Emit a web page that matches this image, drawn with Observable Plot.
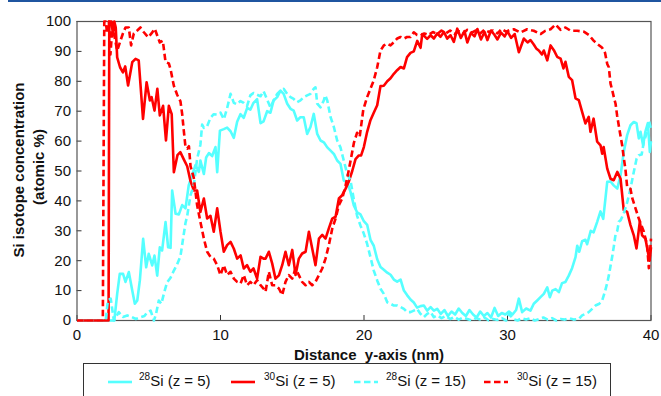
<!DOCTYPE html>
<html>
<head>
<meta charset="utf-8">
<script src="https://cdn.jsdelivr.net/npm/d3@7"></script>
<script src="https://cdn.jsdelivr.net/npm/@observablehq/plot@0.6"></script>
<style>
  html, body { margin: 0; padding: 0; background: #fff; overflow: hidden; }
  #wrap { position: relative; width: 661px; height: 396px; font-family: "Liberation Sans", Arial, sans-serif; color: #111; }
  #topline { position: absolute; left: 8px; right: 0; top: 0; height: 1.5px; background: #1f55a0; }
  #chart { position: absolute; left: 0; top: 0; }
  .lbl { position: absolute; font-weight: bold; font-size: 15px; white-space: pre; }
  .ylab { transform: translate(-50%, -50%) rotate(-90deg); }
  #legend { position: absolute; left: 83px; top: 363px; width: 528px; height: 45px; border: 1px solid #333; box-sizing: border-box; }
  .ent { position: absolute; top: 0; height: 36px; }
  .ent svg { position: absolute; top: 0; left: 0; }
  .ent span { position: absolute; top: 8px; font-size: 15px; white-space: nowrap; }
  .ent sup { font-size: 10px; vertical-align: 0; position: relative; top: -6px; }
</style>
</head>
<body>
<div id="wrap">
  <div id="topline"></div>
  <div id="chart"></div>
  <div class="lbl ylab" style="left:18px; top:170px;">Si isotope concentration</div>
  <div class="lbl ylab" style="left:38px; top:167px;">(atomic %)</div>
  <div class="lbl" style="left:369px; top:354px; transform: translate(-50%,-50%);">Distance  y-axis (nm)</div>
  <div id="legend"></div>
</div>
<script>
// ---- data: [distance nm, atomic %] ----
const si28z5 = [[0,0],[2.6,0],[2.8,8.9],[2.98,15.6],[3.21,15.6],[3.38,12.9],[3.61,16.2],[3.85,10],[4.03,5.6],[4.2,6.7],[4.38,13.4],[4.61,27.3],[4.82,17.8],[5.0,22.3],[5.24,18.4],[5.4,21.7],[5.59,15],[5.77,24.5],[5.93,23.4],[6.17,32.9],[6.35,24.5],[6.52,24.3],[6.63,43.5],[6.87,35.7],[7.1,35.5],[7.33,38.6],[7.56,37.5],[7.79,45.3],[8.02,48.6],[8.26,52],[8.49,49.7],[8.6,53.5],[8.84,49],[9.0,54.5],[9.19,56],[9.42,55],[9.65,58],[9.77,49.6],[9.96,63.5],[10.23,64],[10.46,64.5],[10.7,63.3],[10.93,61.1],[11.16,66.5],[11.39,69],[11.62,67.8],[11.86,71.1],[12.08,70.5],[12.3,72.8],[12.55,74],[12.79,66],[13.0,66.6],[13.25,70],[13.48,69.5],[13.7,73.6],[13.95,74.7],[14.18,76.9],[14.4,75.8],[14.65,72.5],[14.88,70.8],[15.1,70.2],[15.34,66.9],[15.57,68],[15.8,68],[16.04,62.4],[16.27,64.7],[16.5,69.1],[16.74,62.4],[16.97,60.2],[17.2,59.6],[17.44,57.9],[17.67,56.8],[17.9,55.7],[18.13,53.5],[18.36,52.4],[18.59,46.8],[18.83,46.3],[19.06,43],[19.29,38.5],[19.52,36.2],[19.75,35.5],[19.99,33.2],[20.22,32],[20.45,27],[20.68,25],[20.92,20.5],[21.15,17.9],[21.38,17],[21.62,16],[21.85,15.3],[22.08,13.7],[22.31,13],[22.55,13.7],[22.78,10],[23.0,8.5],[23.24,7],[23.47,6],[23.7,4.3],[23.94,4.8],[24.17,5],[24.4,3.3],[24.64,4.5],[24.87,3.3],[25.1,3.9],[25.35,2.2],[25.6,3.5],[25.85,1.5],[26.1,3],[26.35,2],[26.6,4],[26.85,2.5],[27.1,1.5],[27.35,3.5],[27.6,2],[27.85,1],[28.1,3],[28.35,1.5],[28.6,2.5],[28.85,1],[29.1,4.2],[29.35,1.5],[29.6,2.5],[29.85,2],[30.1,3],[30.35,2],[30.6,3.5],[30.79,7.3],[31.02,2.8],[31.3,4],[31.6,3.3],[31.83,5.6],[32.07,6.7],[32.3,7.8],[32.53,8.9],[32.77,11.1],[32.95,7.8],[33.12,10],[33.35,10.5],[33.58,9.5],[33.8,12.5],[34.04,12.9],[34.27,15],[34.5,17.5],[34.74,21.2],[34.86,25],[35.0,23],[35.2,26.5],[35.43,27],[35.55,25.5],[35.8,30],[36.0,29.5],[36.25,33],[36.48,36.5],[36.67,34],[36.83,41],[36.95,46.4],[37.18,46.5],[37.4,45.2],[37.65,44.1],[37.88,48.6],[38.1,56.4],[38.34,62],[38.57,65.3],[38.8,66.4],[38.99,66],[39.15,60.9],[39.27,63.1],[39.45,58.6],[39.6,63],[39.78,66],[39.92,56.4],[40,60]];

const si30z5 = [[0,0],[2.2,0],[2.25,100],[2.4,100],[2.5,96],[2.6,100],[2.7,98],[2.8,88],[3.0,84.7],[3.2,83],[3.36,85],[3.56,78.6],[3.85,86.4],[4.08,87.5],[4.3,87],[4.6,67.4],[4.85,79.7],[5.08,73.6],[5.2,74.7],[5.4,70.2],[5.6,77.5],[5.77,68.6],[6.0,71.8],[6.2,60.2],[6.4,71.8],[6.6,69],[6.75,49.6],[7.0,55.3],[7.2,56.3],[7.45,53.8],[7.68,51.6],[7.91,46.6],[8.14,43.5],[8.37,43.5],[8.6,36.3],[8.84,40.8],[9.07,34.1],[9.3,35],[9.53,29.7],[9.77,37.5],[10.0,29.7],[10.23,23],[10.46,25.2],[10.7,26.3],[10.93,24],[11.16,20.7],[11.4,21.8],[11.62,17.4],[11.85,18.5],[12.08,16.3],[12.3,17.4],[12.55,14],[12.79,21.3],[13.0,20.7],[13.14,20.7],[13.37,23],[13.6,19.1],[13.83,14],[14.07,15.1],[14.3,18.5],[14.53,23],[14.76,18.5],[15.0,23.6],[15.23,15.2],[15.46,20.7],[15.69,22.4],[15.93,23],[16.16,29.7],[16.39,24.1],[16.62,18.5],[16.86,27.4],[17.09,28.6],[17.32,27.4],[17.55,30.8],[17.79,34.1],[18.02,34.7],[18.25,40.8],[18.48,41.9],[18.72,44.1],[18.95,46.6],[19.18,50],[19.41,54],[19.64,55.2],[19.8,55.2],[19.99,58],[20.22,63.1],[20.45,67],[20.68,69.5],[20.92,72],[21.15,78.4],[21.38,78.5],[21.62,80],[21.85,81],[22.08,82.5],[22.31,83.7],[22.55,84.8],[22.78,84.3],[23.0,88.1],[23.24,89.5],[23.47,90],[23.71,93.5],[23.94,91.2],[24.06,95.8],[24.4,94.2],[24.64,95.4],[24.87,94.3],[25.1,96],[25.33,94.9],[25.57,96.5],[25.8,94.3],[26.03,95.4],[26.26,93.2],[26.5,97.6],[26.75,94.5],[27.0,96.8],[27.2,93],[27.45,96.2],[27.7,95],[27.9,97.5],[28.15,94],[28.4,96.5],[28.6,93.8],[28.85,97],[29.1,95.5],[29.3,94],[29.55,96.3],[29.8,95],[30.0,96.7],[30.25,94.5],[30.5,95.8],[30.79,89.7],[31.14,94.3],[31.4,93],[31.6,93.8],[31.83,92.3],[32.0,91],[32.18,90.3],[32.4,89],[32.53,90.3],[32.77,87],[33.0,92],[33.23,90.4],[33.46,88.2],[33.7,87.6],[33.9,84.3],[34.04,86.5],[34.27,81.5],[34.5,80.4],[34.74,74.3],[34.97,73.7],[35.2,69.8],[35.43,65.9],[35.66,68.1],[35.78,63.1],[36.0,67.5],[36.25,59.8],[36.48,58.6],[36.6,55.8],[36.7,58],[36.95,50.8],[37.18,47.4],[37.4,46.9],[37.65,49.7],[37.88,47.4],[38.1,36.9],[38.34,36.3],[38.57,31.9],[38.8,28.5],[38.99,24.1],[39.22,33],[39.38,28.5],[39.61,27.4],[39.78,23],[39.9,20],[40,24.5]];

const si28z15 = [[0,0],[2.0,0],[2.15,6.7],[2.35,7.3],[2.57,0],[2.91,2.8],[3.2,1.2],[3.5,1.7],[3.8,1.2],[4.1,0.5],[4.42,1.1],[4.7,1.5],[4.9,2.8],[5.13,3.3],[5.36,0],[5.5,2],[5.7,6.7],[5.88,5.6],[6.05,8.9],[6.28,12.8],[6.52,14.3],[6.75,16.7],[6.98,18.8],[7.21,21.5],[7.4,27.6],[7.56,32.6],[7.68,35],[7.8,38.6],[7.91,41.9],[8.14,45.3],[8.37,54],[8.6,58.8],[8.72,65.5],[8.84,64.4],[9.07,65],[9.3,67.8],[9.53,69],[9.77,68.9],[10.0,69.5],[10.23,67.3],[10.46,71],[10.7,75.8],[10.93,72.8],[11.16,72.3],[11.39,73.4],[11.62,72.8],[11.85,71.7],[12.08,75.3],[12.3,76.1],[12.55,75.5],[12.79,75],[13.0,76.7],[13.25,73.9],[13.48,71.3],[13.7,73.6],[13.95,75.8],[14.18,76.9],[14.4,77.5],[14.65,75.8],[14.88,74.7],[15.1,74.1],[15.34,73],[15.57,73.6],[15.8,74.7],[16.04,75.3],[16.27,75.8],[16.5,77.5],[16.62,78],[16.74,72.5],[16.97,71.3],[17.2,73.6],[17.3,75.3],[17.44,73.6],[17.67,68],[17.9,64.7],[18.13,60.2],[18.36,57.9],[18.59,53.5],[18.83,49],[19.06,46.8],[19.29,40.5],[19.52,35],[19.75,31.8],[19.99,29],[20.22,25.6],[20.45,21.2],[20.68,16.7],[20.92,13.4],[21.15,10.6],[21.38,8.9],[21.62,6.1],[21.85,5.6],[22.08,5],[22.31,5],[22.55,4.5],[22.78,3.9],[23.0,2.8],[23.24,2.8],[23.47,3.3],[23.7,3.9],[23.94,2.2],[24.17,1.1],[24.4,2.2],[24.64,2.8],[24.87,1.1],[25.1,1.7],[25.4,0.8],[25.7,1.5],[26.0,0.5],[26.3,1.2],[26.6,0.3],[26.9,1],[27.2,0.5],[27.5,0],[27.8,0.8],[28.1,0.3],[28.4,1],[28.7,0],[29.0,0.5],[29.3,0.2],[29.6,0.8],[29.9,0],[30.1,2.2],[30.4,0.5],[30.7,0],[31.0,0.8],[31.3,0.3],[31.6,0.8],[31.9,0],[32.2,0.5],[32.5,1],[32.8,0.3],[33.1,0.8],[33.4,0],[33.7,0.5],[34.0,0.3],[34.3,0.8],[34.6,0.3],[34.97,0.5],[35.2,1.7],[35.43,2.2],[35.66,2.8],[35.9,3.9],[36.13,5],[36.4,5.6],[36.6,6.7],[36.8,9.8],[36.95,12.6],[37.06,15],[37.18,18.2],[37.3,21.5],[37.41,24.8],[37.53,28.8],[37.65,30],[37.76,33],[37.88,33.5],[38.1,35.8],[38.34,39.5],[38.57,44.1],[38.8,49.7],[39.0,54.2],[39.15,55.3],[39.35,55.5],[39.5,59.8],[39.73,63.1],[39.85,67],[40,64]];

const si30z15 = [[0,0],[1.8,0],[1.9,100],[2.0,100],[2.1,96],[2.22,100],[2.33,89],[2.45,97],[2.57,96],[2.8,90.3],[3.03,93.6],[3.2,96],[3.38,98],[3.61,98],[3.77,92],[3.96,96],[4.2,97],[4.42,98],[4.66,96.4],[4.96,94.7],[5.19,96],[5.42,97.6],[5.59,95.3],[5.77,93],[5.98,93.6],[6.17,86.4],[6.4,86],[6.52,84],[6.75,78.5],[6.98,75.5],[7.21,73.3],[7.33,69],[7.44,63.6],[7.56,58],[7.68,57.5],[7.8,58.3],[7.91,51.6],[8.14,47.7],[8.37,38.6],[8.6,33],[8.84,27.4],[9.07,23],[9.3,21.3],[9.53,20.7],[9.77,18.5],[10.0,15.2],[10.23,18.5],[10.46,15.2],[10.7,16.3],[10.93,14],[11.16,12.9],[11.4,12.4],[11.62,15.2],[11.85,11.8],[12.08,12.9],[12.3,11.8],[12.55,13.5],[12.79,11.8],[13.0,10.7],[13.14,9.6],[13.37,16.3],[13.6,11.8],[13.83,11.8],[14.07,10.7],[14.3,8.5],[14.53,12.9],[14.76,15.2],[15.0,14],[15.23,17.4],[15.46,15.2],[15.69,12.9],[15.93,11.8],[16.16,12.9],[16.39,11.8],[16.62,12.9],[16.86,15.2],[17.09,17.4],[17.32,20.7],[17.55,25.2],[17.79,30.8],[18.02,34.1],[18.25,38.6],[18.48,40.8],[18.72,45.2],[18.9,49.3],[19.18,56.4],[19.3,59.5],[19.52,62.8],[19.7,61.5],[19.95,70.5],[20.22,74.7],[20.45,77.5],[20.68,80.3],[20.92,84.7],[21.15,90.3],[21.38,92],[21.62,92.6],[21.85,92],[22.08,93.1],[22.31,94.3],[22.55,94.8],[22.78,94.3],[23.0,94.8],[23.24,94.8],[23.47,96.4],[23.7,95.5],[23.94,95.3],[24.2,96],[24.5,95.5],[24.8,96.5],[25.1,95.8],[25.4,97],[25.7,96],[26.0,97],[26.3,95.8],[26.6,96.8],[26.9,96],[27.2,97.2],[27.5,96.3],[27.8,97],[28.1,96],[28.4,97.3],[28.7,96.5],[29.0,97],[29.3,96],[29.6,97.5],[29.9,96.6],[30.2,97.2],[30.44,97.4],[30.9,96.3],[31.37,97.4],[31.83,96.9],[32.3,95.8],[32.64,96.9],[33.0,97.4],[33.35,99],[33.7,97.2],[34.04,98],[34.4,96.9],[34.86,96.9],[35.32,96.6],[35.67,95.5],[36.0,93.6],[36.25,92.5],[36.6,91.2],[36.8,89.5],[36.95,85.8],[37.06,84.7],[37.18,79.2],[37.3,77],[37.41,74.7],[37.53,72.5],[37.64,68.5],[37.88,61.6],[37.99,58.6],[38.1,54.5],[38.22,50.5],[38.34,44.6],[38.57,44],[38.69,41],[38.92,37.5],[39.15,34.1],[39.5,29.7],[39.73,25.2],[39.85,17.5],[39.92,22],[40,27.4]];

const xTicks = [0, 10, 20, 30, 40];
const yTicks = [0, 10, 20, 30, 40, 50, 60, 70, 80, 90, 100];

const series = [
  {name: "28", z: "5",  data: si28z5,  color: "#55ffff", dash: null},
  {name: "30", z: "5",  data: si30z5,  color: "#ff0000", dash: null},
  {name: "28", z: "15", data: si28z15, color: "#55ffff", dash: "6.5,3.5"},
  {name: "30", z: "15", data: si30z15, color: "#ff0000", dash: "6.5,3.5"}
];

const W = 661, H = 362, mT = 21, mB = 42, mL = 76.5, mR = 10.5;
const innerH = H - mT - mB, innerW = W - mL - mR;

const chart = Plot.plot({
  width: W, height: H,
  marginTop: mT, marginBottom: mB, marginLeft: mL, marginRight: mR,
  style: {fontFamily: '"Liberation Sans", Arial, sans-serif', fontSize: "15px", color: "#111", background: "transparent"},
  x: {domain: [0, 40]},
  y: {domain: [0, 100]},
  marks: [
    Plot.axisX({ticks: xTicks, tickSize: 0, tickPadding: 9, label: null, fontSize: 15, tickFormat: d => d}),
    Plot.axisY({ticks: yTicks, tickSize: 0, tickPadding: 6, label: null, fontSize: 15, tickFormat: d => d}),
    Plot.tickX(xTicks, {x: d => d, insetTop: innerH - 5, stroke: "#333", strokeWidth: 1}),
    Plot.tickY(yTicks, {y: d => d, insetRight: innerW - 5, stroke: "#333", strokeWidth: 1}),
    Plot.frame({stroke: "#555", strokeWidth: 1.2}),
    ...series.map(s => Plot.line(s.data, {
      x: d => d[0], y: d => d[1], stroke: s.color, strokeWidth: 2.6,
      strokeDasharray: s.dash, strokeLinejoin: "round", strokeLinecap: "butt", curve: "linear"
    }))
  ]
});
document.getElementById("chart").appendChild(chart);

// legend
const legend = document.getElementById("legend");
const pos = [[24, 55], [147, 180], [270, 302], [400, 433]];
series.forEach((s, i) => {
  const e = document.createElement("div");
  e.className = "ent";
  e.style.left = pos[i][0] + "px";
  const svgNS = "http://www.w3.org/2000/svg";
  const sv = document.createElementNS(svgNS, "svg");
  sv.setAttribute("width", 26); sv.setAttribute("height", 36);
  const ln = document.createElementNS(svgNS, "line");
  ln.setAttribute("x1", 0); ln.setAttribute("x2", 24);
  ln.setAttribute("y1", 18); ln.setAttribute("y2", 18);
  ln.setAttribute("stroke", s.color); ln.setAttribute("stroke-width", 2.6);
  if (s.dash) ln.setAttribute("stroke-dasharray", s.dash);
  sv.appendChild(ln);
  e.appendChild(sv);
  const t = document.createElement("span");
  t.style.left = (pos[i][1] - pos[i][0]) + "px";
  t.innerHTML = `<sup>${s.name}</sup>Si (z = ${s.z})`;
  e.appendChild(t);
  legend.appendChild(e);
});
</script>
</body>
</html>
